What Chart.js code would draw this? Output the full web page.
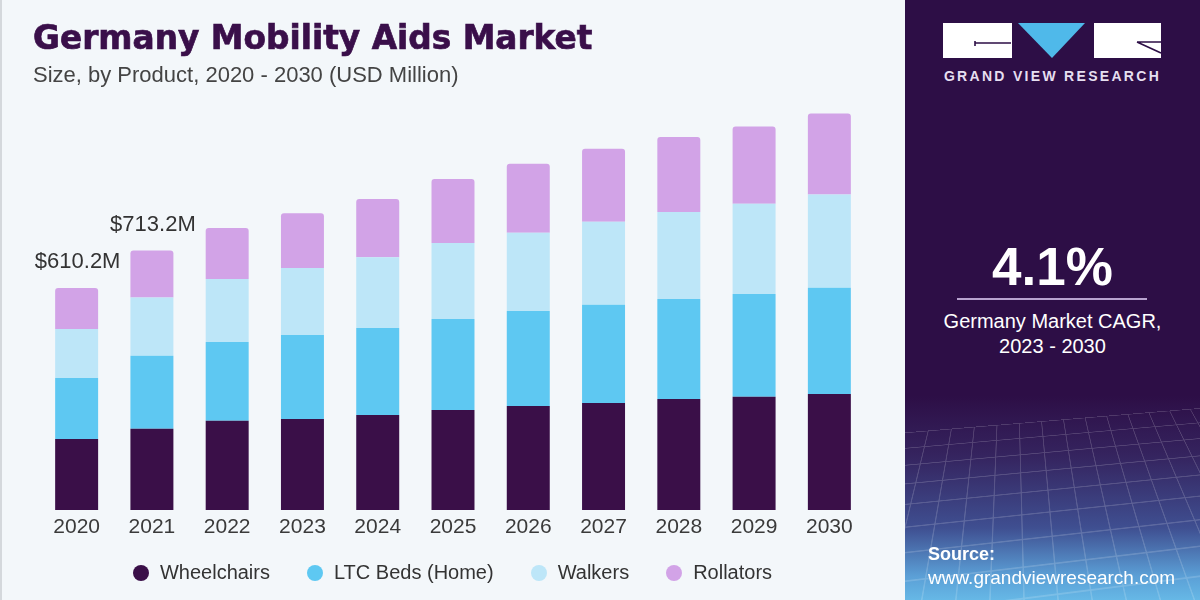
<!DOCTYPE html>
<html>
<head>
<meta charset="utf-8">
<script src="https://cdn.jsdelivr.net/npm/chart.js@4/dist/chart.umd.min.js"></script>
<style>
  html, body { margin:0; padding:0; width:1200px; height:600px; overflow:hidden; background:#f3f7fa; font-family:"Liberation Sans", Arial, sans-serif; }
  #leftedge { position:absolute; left:0; top:0; width:2px; height:600px; background:#d4d8dc; }
  #title { position:absolute; left:33px; top:22px; line-height:32px; font-family:"DejaVu Sans", sans-serif; font-weight:bold; font-size:32.8px; color:#3a0f4a; white-space:nowrap; -webkit-text-stroke:0.7px #3a0f4a; }
  #subtitle { position:absolute; left:33px; top:62px; font-size:22px; color:#444; white-space:nowrap; }
  #chartbox { position:absolute; left:0; top:0; width:905px; height:600px; }
  #legend { position:absolute; left:0; top:561px; width:905px; display:flex; justify-content:center; gap:37px; font-size:20px; color:#333; }
  #legend .item { display:flex; align-items:center; }
  #legend .dot { width:16px; height:16px; border-radius:50%; margin-right:11px; }
  #panel { position:absolute; left:905px; top:0; width:295px; height:600px; overflow:hidden;
    background:linear-gradient(to bottom, #2d0e46 0%, #2d0e46 66%, #35245f 76%, #3f4f91 88%, #5b9fd6 96%, #66b8e6 100%); }
  #grid { position:absolute; left:-150px; top:420px; width:600px; height:260px; opacity:0.17;
    background-image: repeating-linear-gradient(to right, rgba(255,255,255,0.9) 0 1px, transparent 1px 22px), repeating-linear-gradient(to bottom, rgba(255,255,255,0.9) 0 1px, transparent 1px 18px);
    transform: perspective(260px) rotateX(38deg) rotateZ(-6deg); transform-origin: 50% 0%; }
  #gvr { position:absolute; left:0; width:295px; top:68px; text-align:center; color:#e6dff0; font-weight:bold; font-size:14px; letter-spacing:2.3px; }
  #big { position:absolute; left:0; width:295px; top:236px; text-align:center; color:#fff; font-weight:bold; font-size:53px; }
  #rule { position:absolute; left:52px; top:298px; width:190px; height:2px; background:#b8a3cf; }
  #cagr { position:absolute; left:0; width:295px; top:309px; text-align:center; color:#fff; font-size:20px; line-height:25px; }
  #src { position:absolute; left:23px; top:542px; color:#fff; font-size:19px; line-height:24px; }
  #src b { font-size:18px; }
</style>
</head>
<body>
<div id="leftedge"></div>
<div id="chartbox"><canvas id="c" width="905" height="600"></canvas></div>
<div id="title">Germany Mobility Aids Market</div>
<div id="subtitle">Size, by Product, 2020 - 2030 (USD Million)</div>
<div id="legend"></div>
<div id="panel">
  <div id="grid"></div>
  <svg style="position:absolute;left:0;top:0" width="295" height="70">
    <rect x="38" y="23" width="69" height="35" fill="#ffffff"/>
    <path d="M70 41 L70 46 M70 43 L106 43" stroke="#2d0e46" stroke-width="1.6" fill="none"/>
    <polygon points="113,23 180,23 147,58" fill="#4fb9ea"/>
    <rect x="189" y="23" width="67" height="35" fill="#ffffff"/>
    <path d="M232 42 L256 42 M232 42 L256 53" stroke="#2d0e46" stroke-width="1.6" fill="none"/>
  </svg>
  <div id="gvr">GRAND VIEW RESEARCH</div>
  <div id="big">4.1%</div>
  <div id="rule"></div>
  <div id="cagr">Germany Market CAGR,<br>2023 - 2030</div>
  <div id="src"><b>Source:</b><br>www.grandviewresearch.com</div>
</div>
<script>
const years = ["2020","2021","2022","2023","2024","2025","2026","2027","2028","2029","2030"];
const wheelchairs = [195.3, 223.0, 245, 250, 261, 275, 286, 294, 305, 311, 319];
const ltcBeds     = [167.7, 201.0, 217, 231, 239, 250, 261, 270, 275, 283, 292];
const walkers     = [134.7, 160.0, 173, 184, 195, 209, 215, 228, 239, 248, 256];
const rollators   = [112.5, 129.2, 140, 151, 160, 176, 190, 201, 206, 212, 223];
const totalLabels = ["$610.2M", "$713.2M", null, null, null, null, null, null, null, null, null];
const seriesNames = ["Wheelchairs", "LTC Beds (Home)", "Walkers", "Rollators"];
const seriesColors = ["#3a0f48", "#5ec8f2", "#bde6f8", "#d2a3e7"];

const seriesData = [wheelchairs, ltcBeds, walkers, rollators];

// HTML legend built from series names/colors
const lg = document.getElementById('legend');
seriesNames.forEach((n, i) => {
  const it = document.createElement('div'); it.className = 'item';
  const d = document.createElement('div'); d.className = 'dot'; d.style.background = seriesColors[i];
  const t = document.createElement('span'); t.textContent = n;
  it.appendChild(d); it.appendChild(t); lg.appendChild(it);
});

const totalsPlugin = {
  id: 'totals',
  afterDatasetsDraw(chart) {
    const ctx = chart.ctx;
    const xs = chart.scales.x, ys = chart.scales.y;
    ctx.save();
    ctx.font = '22px "Liberation Sans", Arial, sans-serif';
    ctx.fillStyle = '#333';
    ctx.textAlign = 'center';
    ctx.textBaseline = 'middle';
    totalLabels.forEach((lab, i) => {
      if (!lab) return;
      const tot = seriesData.reduce((s, arr) => s + arr[i], 0);
      ctx.fillText(lab, xs.getPixelForValue(i) + 1, ys.getPixelForValue(tot) - 26);
    });
    ctx.restore();
  }
};

new Chart(document.getElementById('c'), {
  type: 'bar',
  data: {
    labels: years,
    datasets: seriesData.map((arr, i) => ({
      label: seriesNames[i],
      data: arr,
      backgroundColor: seriesColors[i],
      borderWidth: 0,
      borderSkipped: false,
      borderRadius: i === 3 ? {topLeft: 3, topRight: 3, bottomLeft: 0, bottomRight: 0} : 0,
      barPercentage: 0.571,
      categoryPercentage: 1.0
    }))
  },
  options: {
    responsive: false,
    animation: false,
    layout: { padding: { left: 39, right: 38, top: 100, bottom: 50 } },
    plugins: { legend: { display: false }, tooltip: { enabled: false } },
    scales: {
      x: {
        stacked: true,
        grid: { display: false, drawTicks: false },
        border: { display: false },
        ticks: { color: '#3a3a3a', font: { family: '"Liberation Sans", Arial, sans-serif', size: 21 }, padding: 5, maxRotation: 0, autoSkip: false },
        afterFit(scale) { scale.height = 40; }
      },
      y: {
        stacked: true,
        display: false,
        min: 0,
        max: 1127
      }
    }
  },
  plugins: [totalsPlugin]
});
</script>
</body>
</html>
